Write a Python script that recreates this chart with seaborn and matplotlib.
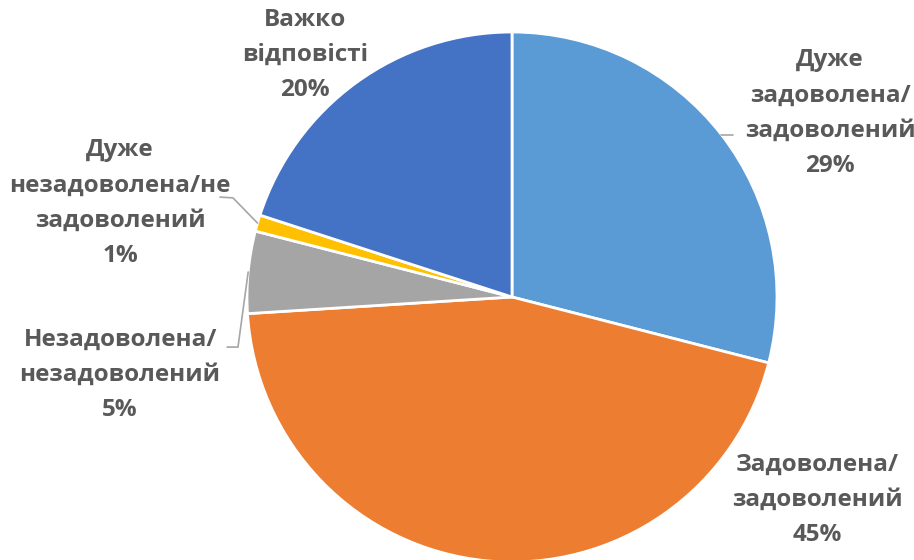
import numpy as np
import matplotlib
matplotlib.use("Agg")
import matplotlib.pyplot as plt
import seaborn as sns

# ----- data -----
categories = ["Дуже\nзадоволена/\nзадоволений",
              "Задоволена/\nзадоволений",
              "Незадоволена/\nнезадоволений",
              "Дуже\nнезадоволена/не\nзадоволений",
              "Важко\nвідповісті"]
shares = [29, 45, 5, 1, 20]
palette = ["#5B9BD5", "#ED7D31", "#A5A5A5", "#FFC000", "#4472C4"]

# label centres (in pie radius units) and leader line elbows
label_pos = [(1.20, 0.694), (1.151, -0.766), (-1.479, -0.294), (-1.479, 0.355), (-0.781, 0.913)]
leaders = {0: [(0.835, None)],
           2: [(-1.034, -0.189), (-1.075, -0.189)],
           3: [(-1.053, 0.374), (-1.102, 0.377)]}

sns.set_style("white")
plt.rcParams["font.family"] = ["Open Sans", "DejaVu Sans"]
text_color = "#595959"

fig = plt.figure(figsize=(9.14, 5.6), dpi=100)
W, H = 914, 560
cx, cy, r = 512, 297, 265
ax = fig.add_axes([(cx - r) / W, (H - cy - r) / H, 2 * r / W, 2 * r / H])

wedges, _ = ax.pie(shares, colors=sns.color_palette(palette), startangle=90, counterclock=False,
                   radius=1, wedgeprops=dict(edgecolor="white", linewidth=2))
ax.set_xlim(-1, 1)
ax.set_ylim(-1, 1)
ax.set_aspect("equal")
ax.axis("off")

for i, (w, cat, val) in enumerate(zip(wedges, categories, shares)):
    x, y = label_pos[i]
    ax.text(x, y, f"{cat}\n{val}%", ha="center", va="center", fontsize=17.5, fontweight="bold",
            color=text_color, linespacing=1.62, clip_on=False)
    if i in leaders:
        mid = np.deg2rad((w.theta1 + w.theta2) / 2)
        px, py = np.cos(mid), np.sin(mid)
        pts = [(px, py)]
        for ex, ey in leaders[i]:
            pts.append((ex, py if ey is None else ey))
        xs, ys = zip(*pts)
        ax.plot(xs, ys, color="#A6A6A6", linewidth=1.2, clip_on=False)

fig.savefig("out.png", dpi=100)
